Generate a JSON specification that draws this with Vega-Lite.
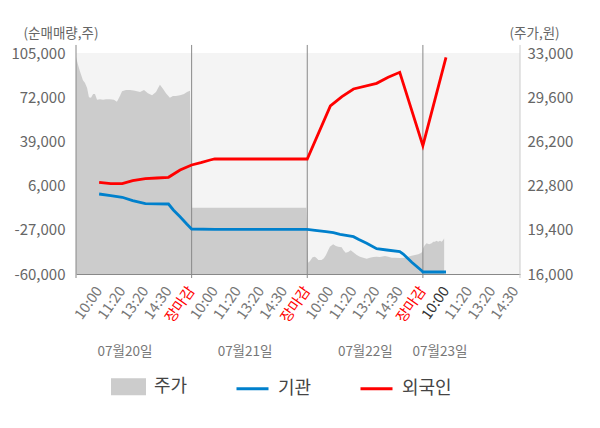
{
  "$schema": "https://vega.github.io/schema/vega-lite/v6.json",
  "width": 444,
  "height": 221,
  "autosize": "none",
  "padding": {"left": 76, "top": 53, "right": 80, "bottom": 154},
  "background": "white",
  "config": {"font": "Noto Sans CJK KR", "view": {"fill": "#f4f4f4", "stroke": null}},
  "datasets": {
    "price": [
      {"slot": 0.00, "price": 32700}, {"slot": 0.09, "price": 32080}, {"slot": 0.17, "price": 31600},
      {"slot": 0.30, "price": 30900}, {"slot": 0.39, "price": 30700}, {"slot": 0.48, "price": 30300},
      {"slot": 0.56, "price": 29600}, {"slot": 0.65, "price": 29550}, {"slot": 0.74, "price": 29850},
      {"slot": 0.82, "price": 29850}, {"slot": 0.91, "price": 29400}, {"slot": 1.04, "price": 29450},
      {"slot": 1.17, "price": 29400}, {"slot": 1.30, "price": 29450}, {"slot": 1.47, "price": 29450},
      {"slot": 1.64, "price": 29400}, {"slot": 1.77, "price": 29250}, {"slot": 1.90, "price": 29700},
      {"slot": 1.99, "price": 30050}, {"slot": 2.16, "price": 30150}, {"slot": 2.34, "price": 30150},
      {"slot": 2.55, "price": 30100}, {"slot": 2.77, "price": 30000}, {"slot": 2.94, "price": 30150},
      {"slot": 3.11, "price": 29900}, {"slot": 3.29, "price": 29750}, {"slot": 3.46, "price": 30000},
      {"slot": 3.55, "price": 30300}, {"slot": 3.63, "price": 30550}, {"slot": 3.76, "price": 30250},
      {"slot": 3.89, "price": 29900}, {"slot": 4.06, "price": 29550}, {"slot": 4.19, "price": 29700},
      {"slot": 4.32, "price": 29700}, {"slot": 4.50, "price": 29750}, {"slot": 4.67, "price": 29850},
      {"slot": 4.80, "price": 30000}, {"slot": 4.93, "price": 30100},
      {"slot": 4.97, "price": 25500}, {"slot": 5.02, "price": 21100}, {"slot": 9.96, "price": 21100},
      {"slot": 10.00, "price": 18770}, {"slot": 10.04, "price": 16870}, {"slot": 10.12, "price": 17000},
      {"slot": 10.23, "price": 17285}, {"slot": 10.33, "price": 17330}, {"slot": 10.41, "price": 17210},
      {"slot": 10.48, "price": 17080}, {"slot": 10.62, "price": 17080}, {"slot": 10.72, "price": 17210},
      {"slot": 10.81, "price": 17460}, {"slot": 10.91, "price": 17850}, {"slot": 10.98, "price": 18100},
      {"slot": 11.12, "price": 18285}, {"slot": 11.24, "price": 18150}, {"slot": 11.34, "price": 18100},
      {"slot": 11.49, "price": 18055}, {"slot": 11.56, "price": 17850}, {"slot": 11.66, "price": 17640},
      {"slot": 11.77, "price": 17690}, {"slot": 11.88, "price": 17820}, {"slot": 11.99, "price": 17670},
      {"slot": 12.14, "price": 17460}, {"slot": 12.28, "price": 17330}, {"slot": 12.42, "price": 17255},
      {"slot": 12.57, "price": 17180}, {"slot": 12.71, "price": 17255}, {"slot": 12.85, "price": 17310},
      {"slot": 13.00, "price": 17330}, {"slot": 13.14, "price": 17310}, {"slot": 13.36, "price": 17385},
      {"slot": 13.50, "price": 17330}, {"slot": 13.65, "price": 17255}, {"slot": 13.79, "price": 17255},
      {"slot": 14.01, "price": 17230}, {"slot": 14.22, "price": 17255}, {"slot": 14.37, "price": 17330},
      {"slot": 14.51, "price": 17410}, {"slot": 14.66, "price": 17460}, {"slot": 14.80, "price": 17515},
      {"slot": 14.90, "price": 17590}, {"slot": 14.97, "price": 17690},
      {"slot": 15.01, "price": 17975}, {"slot": 15.09, "price": 18230}, {"slot": 15.16, "price": 18360},
      {"slot": 15.27, "price": 18285}, {"slot": 15.38, "price": 18360}, {"slot": 15.45, "price": 18485},
      {"slot": 15.52, "price": 18485}, {"slot": 15.59, "price": 18560}, {"slot": 15.66, "price": 18485},
      {"slot": 15.74, "price": 18560}, {"slot": 15.81, "price": 18485}, {"slot": 15.88, "price": 18615},
      {"slot": 15.92, "price": 18745}
    ],
    "flow": [
      {"series": "기관", "slot": 1.0, "value": -270}, {"series": "기관", "slot": 1.5, "value": -1540},
      {"series": "기관", "slot": 2.0, "value": -2730}, {"series": "기관", "slot": 2.45, "value": -5270},
      {"series": "기관", "slot": 3.0, "value": -7510}, {"series": "기관", "slot": 4.0, "value": -7740},
      {"series": "기관", "slot": 4.21, "value": -12220}, {"series": "기관", "slot": 4.5, "value": -17220},
      {"series": "기관", "slot": 4.79, "value": -22670}, {"series": "기관", "slot": 5.0, "value": -26400},
      {"series": "기관", "slot": 6.0, "value": -26630}, {"series": "기관", "slot": 7.0, "value": -26630},
      {"series": "기관", "slot": 8.0, "value": -26630}, {"series": "기관", "slot": 9.0, "value": -26630},
      {"series": "기관", "slot": 10.0, "value": -26630}, {"series": "기관", "slot": 10.34, "value": -27370},
      {"series": "기관", "slot": 10.81, "value": -28420}, {"series": "기관", "slot": 11.13, "value": -29170},
      {"series": "기관", "slot": 11.42, "value": -30360}, {"series": "기관", "slot": 12.0, "value": -32150},
      {"series": "기관", "slot": 12.21, "value": -34090}, {"series": "기관", "slot": 12.57, "value": -37080},
      {"series": "기관", "slot": 13.0, "value": -41110}, {"series": "기관", "slot": 13.44, "value": -42080},
      {"series": "기관", "slot": 14.0, "value": -43350}, {"series": "기관", "slot": 14.15, "value": -45070},
      {"series": "기관", "slot": 14.52, "value": -51260}, {"series": "기관", "slot": 14.95, "value": -57530},
      {"series": "기관", "slot": 15.0, "value": -58500}, {"series": "기관", "slot": 16.0, "value": -58500},
      {"series": "외국인", "slot": 1.0, "value": 8460}, {"series": "외국인", "slot": 1.5, "value": 7420},
      {"series": "외국인", "slot": 2.0, "value": 7420}, {"series": "외국인", "slot": 2.45, "value": 9660},
      {"series": "외국인", "slot": 3.0, "value": 11150}, {"series": "외국인", "slot": 3.5, "value": 11680},
      {"series": "외국인", "slot": 4.0, "value": 12200}, {"series": "외국인", "slot": 4.5, "value": 17650},
      {"series": "외국인", "slot": 5.0, "value": 21380}, {"series": "외국인", "slot": 5.4, "value": 23100},
      {"series": "외국인", "slot": 5.8, "value": 25110}, {"series": "외국인", "slot": 6.0, "value": 25860},
      {"series": "외국인", "slot": 7.0, "value": 25860}, {"series": "외국인", "slot": 8.0, "value": 25860},
      {"series": "외국인", "slot": 9.0, "value": 25860}, {"series": "외국인", "slot": 10.0, "value": 25860},
      {"series": "외국인", "slot": 11.0, "value": 65430}, {"series": "외국인", "slot": 11.5, "value": 72370},
      {"series": "외국인", "slot": 12.0, "value": 78120}, {"series": "외국인", "slot": 13.0, "value": 82370},
      {"series": "외국인", "slot": 13.5, "value": 86860}, {"series": "외국인", "slot": 14.0, "value": 90590},
      {"series": "외국인", "slot": 15.0, "value": 35790}, {"series": "외국인", "slot": 16.0, "value": 101790}
    ],
    "grid": [
      {"value": -60000}, {"value": -27000}, {"value": 6000}, {"value": 39000}, {"value": 72000}, {"value": 105000}
    ],
    "bounds": [{"slot": 0}, {"slot": 5}, {"slot": 10}, {"slot": 15}],
    "edge": [{"slot": 19.2}],
    "zero": [{"value": 0}],
    "days": [
      {"slot": 2.12, "label": "07월20일"}, {"slot": 7.31, "label": "07월21일"},
      {"slot": 12.51, "label": "07월22일"}, {"slot": 15.74, "label": "07월23일"}
    ]
  },
  "encoding": {
    "x": {
      "field": "slot",
      "type": "quantitative",
      "scale": {"domain": [0, 19.2], "nice": false, "zero": false},
      "axis": {
        "values": [1, 2, 3, 4, 5, 6, 7, 8, 9, 10, 11, 12, 13, 14, 15, 16, 17, 18, 19],
        "labelExpr": "datum.value % 5 === 0 ? '장마감' : ['', '10:00', '11:20', '13:20', '14:30'][datum.value % 5]",
        "labelAngle": -55,
        "labelAlign": "right",
        "labelBaseline": "middle",
        "labelFontSize": 14.5,
        "labelColor": {
          "condition": [
            {"test": "datum.value % 5 === 0", "value": "#ff0000"},
            {"test": "datum.value === 16", "value": "#333333"}
          ],
          "value": "#777777"
        },
        "ticks": false,
        "grid": false,
        "domainColor": "#888888",
        "labelPadding": 14,
        "labelOverlap": false,
        "labelFlush": false,
        "title": null
      }
    }
  },
  "layer": [
    {
      "data": {"name": "price"},
      "mark": {"type": "area", "interpolate": "linear"},
      "encoding": {
        "y": {
          "field": "price",
          "type": "quantitative",
          "scale": {"domain": [16000, 33000], "nice": false, "zero": false},
          "axis": {
            "orient": "right",
            "values": [16000, 19400, 22800, 26200, 29600, 33000],
            "labelExpr": "format(datum.value, ',')",
            "domain": false,
            "ticks": false,
            "grid": false,
            "labelPadding": 7,
            "labelFontSize": 15,
            "labelColor": "#666666",
            "title": "(주가,원)",
            "titleAngle": 0,
            "titleAlign": "left",
            "titleBaseline": "middle",
            "titleX": -11,
            "titleY": -20,
            "titleFontSize": 13.5,
            "titleFontWeight": "normal",
            "titleColor": "#666666"
          }
        },
        "y2": {"datum": 16000},
        "color": {
          "datum": "주가",
          "type": "nominal",
          "title": null,
          "scale": {"domain": ["주가", "기관", "외국인"], "range": ["#cccccc", "#0080cc", "#ff0000"]},
          "legend": {
            "orient": "none",
            "legendX": 35,
            "legendY": 316,
            "direction": "horizontal",
            "title": null,
            "labelFontSize": 18,
            "labelColor": "#444444",
            "symbolSize": 1024,
            "symbolStrokeWidth": 3,
            "labelOffset": 8,
            "columnPadding": 42,
            "encode": {
              "symbols": {
                "update": {
                  "shape": {"signal": "datum.label === '주가' ? 'M-1,-0.44H1V0.44H-1Z' : 'M-1,0H1'"},
                  "fill": {"signal": "datum.label === '주가' ? '#cccccc' : 'transparent'"},
                  "stroke": {"signal": "datum.label === '기관' ? '#0080cc' : datum.label === '외국인' ? '#ff0000' : 'transparent'"},
                  "strokeWidth": {"value": 3},
                  "opacity": {"value": 1}
                }
              }
            }
          }
        }
      }
    },
    {
      "layer": [
        {
          "data": {"name": "grid"},
          "mark": {"type": "rule", "color": "#dddddd", "strokeWidth": 1},
          "encoding": {
            "x": {"datum": 0},
            "x2": {"datum": 19.2},
            "y": {
              "field": "value",
              "type": "quantitative",
              "scale": {"domain": [-60000, 105000], "nice": false, "zero": false},
              "axis": {
                "orient": "left",
                "values": [-60000, -27000, 6000, 39000, 72000, 105000],
                "labelExpr": "datum.value < 0 ? '-' + format(-datum.value, ',') : format(datum.value, ',')",
                "domain": false,
                "ticks": false,
                "grid": false,
                "labelPadding": 11,
                "labelFontSize": 15,
                "labelColor": "#666666",
                "title": "(순매매량,주)",
                "titleAngle": 0,
                "titleAlign": "left",
                "titleBaseline": "middle",
                "titleX": -53,
                "titleY": -20,
                "titleFontSize": 13.5,
                "titleFontWeight": "normal",
                "titleColor": "#666666"
              }
            }
          }
        },
        {
          "data": {"name": "zero"},
          "mark": {"type": "rule", "color": "#888888", "strokeWidth": 1},
          "encoding": {
            "x": {"datum": 0},
            "x2": {"datum": 19.2},
            "y": {"field": "value", "type": "quantitative", "scale": {"domain": [-60000, 105000], "nice": false, "zero": false}}
          }
        },
        {
          "data": {"name": "bounds"},
          "mark": {"type": "rule", "color": "#888888", "strokeWidth": 1},
          "encoding": {
            "y": {"datum": 111000, "type": "quantitative"},
            "y2": {"datum": -63000}
          }
        },
        {
          "data": {"name": "edge"},
          "mark": {"type": "rule", "color": "#cccccc", "strokeWidth": 1},
          "encoding": {
            "y": {"datum": 111000, "type": "quantitative"},
            "y2": {"datum": -63000}
          }
        },
        {
          "data": {"name": "flow"},
          "mark": {"type": "line", "strokeWidth": 2.8, "interpolate": "linear"},
          "encoding": {
            "y": {"field": "value", "type": "quantitative", "scale": {"domain": [-60000, 105000], "nice": false, "zero": false}},
            "color": {"field": "series", "type": "nominal", "title": null},
            "order": {"field": "slot"}
          }
        },
        {
          "data": {"name": "days"},
          "mark": {"type": "text", "fontSize": 13.5, "color": "#777777", "dy": 78, "baseline": "middle"},
          "encoding": {
            "y": {"datum": -60000, "type": "quantitative"},
            "text": {"field": "label"}
          }
        }
      ]
    }
  ],
  "resolve": {"scale": {"y": "independent"}}
}
